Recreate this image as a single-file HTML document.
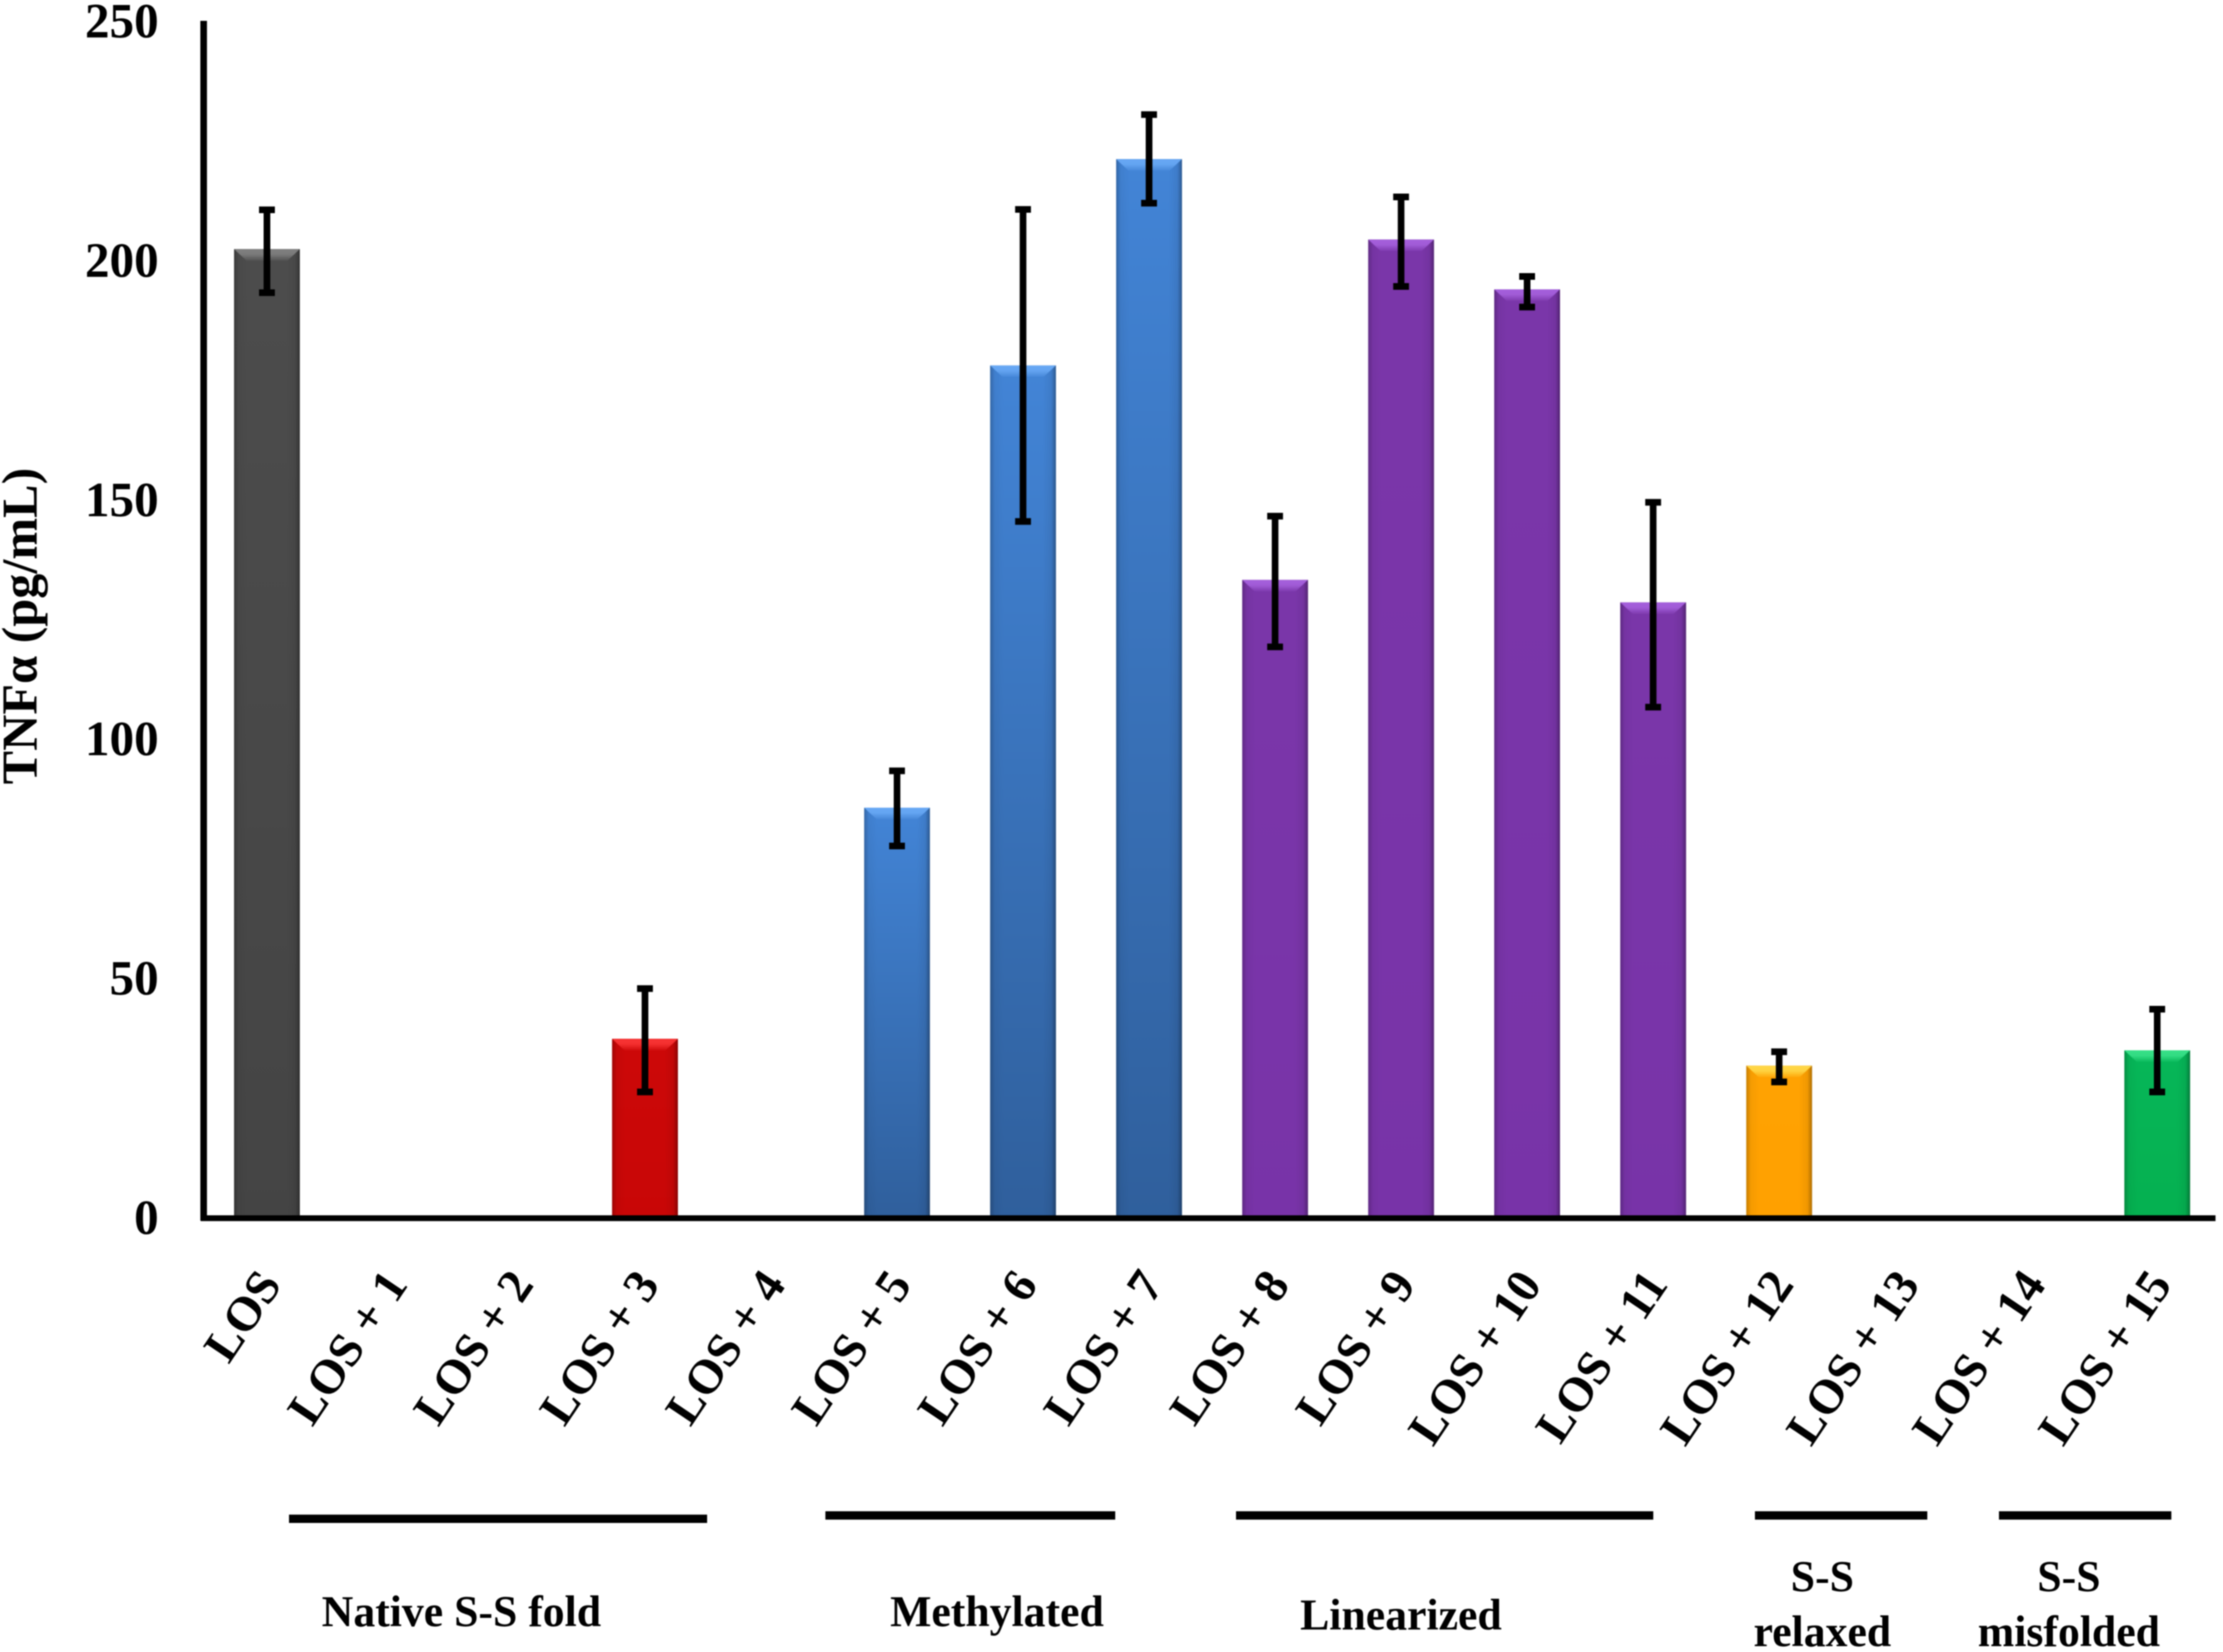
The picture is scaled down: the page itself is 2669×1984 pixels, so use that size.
<!DOCTYPE html>
<html>
<head>
<meta charset="utf-8">
<title>TNFα bar chart</title>
<style>
html,body{margin:0;padding:0;background:#fff;width:2669px;height:1984px;overflow:hidden}
svg{display:block;filter:blur(0.8px)}
text{font-family:"Liberation Serif",serif;font-weight:bold;fill:#000}
</style>
</head>
<body>
<svg id="chart" xmlns="http://www.w3.org/2000/svg" width="2669" height="1984" viewBox="0 0 2669 1984">
  <defs>
    <linearGradient id="g-gray" x1="0" y1="0" x2="0" y2="1"><stop offset="0" stop-color="#4c4c4c"/><stop offset="1" stop-color="#444"/></linearGradient>
    <linearGradient id="g-red" x1="0" y1="0" x2="0" y2="1"><stop offset="0" stop-color="#cc0808"/><stop offset="1" stop-color="#c80606"/></linearGradient>
    <linearGradient id="g-blue" x1="0" y1="0" x2="0" y2="1"><stop offset="0" stop-color="#4284d6"/><stop offset="1" stop-color="#2f5f9c"/></linearGradient>
    <linearGradient id="g-purple" x1="0" y1="0" x2="0" y2="1"><stop offset="0" stop-color="#7a36a9"/><stop offset="1" stop-color="#7833a8"/></linearGradient>
    <linearGradient id="g-orange" x1="0" y1="0" x2="0" y2="1"><stop offset="0" stop-color="#ffa202"/><stop offset="1" stop-color="#ffa000"/></linearGradient>
    <linearGradient id="g-green" x1="0" y1="0" x2="0" y2="1"><stop offset="0" stop-color="#06b658"/><stop offset="1" stop-color="#05b050"/></linearGradient>
    <linearGradient id="edge-shade" x1="0" y1="0" x2="1" y2="0">
      <stop offset="0" stop-color="#000" stop-opacity="0.22"/><stop offset="0.07" stop-color="#000" stop-opacity="0.04"/>
      <stop offset="0.2" stop-color="#000" stop-opacity="0"/><stop offset="0.8" stop-color="#000" stop-opacity="0"/>
      <stop offset="0.93" stop-color="#000" stop-opacity="0.06"/><stop offset="1" stop-color="#000" stop-opacity="0.32"/>
    </linearGradient>
    <linearGradient id="bevel-fade" x1="0" y1="0" x2="0" y2="1">
      <stop offset="0" stop-color="#fff" stop-opacity="1"/><stop offset="0.45" stop-color="#fff" stop-opacity="0.9"/><stop offset="1" stop-color="#fff" stop-opacity="0.1"/>
    </linearGradient>
    <mask id="bevel-mask" maskContentUnits="objectBoundingBox" x="0" y="0" width="1" height="1">
      <rect x="0" y="0" width="1" height="1" fill="url(#bevel-fade)"/>
    </mask>
  </defs>
  <g id="bars"></g>
  <g id="errors"></g>
  <line x1="244.5" y1="25" x2="244.5" y2="1466" stroke="#000" stroke-width="8"/>
  <line x1="241" y1="1463" x2="2660" y2="1463" stroke="#000" stroke-width="7"/>
  <g id="yticks"></g>
  <g id="xticks"></g>
  <text transform="translate(44,942) rotate(-90)" font-size="60.3">TNFα (pg/mL)</text>

  <rect x="347" y="1819" width="502" height="10" fill="#000"/>
  <rect x="991" y="1815" width="348" height="10" fill="#000"/>
  <rect x="1484" y="1815" width="501" height="10" fill="#000"/>
  <rect x="2107" y="1815" width="207" height="10" fill="#000"/>
  <rect x="2400" y="1815" width="207" height="10" fill="#000"/>

  <g font-size="52.5" text-anchor="middle">
    <text x="554" y="1953">Native S-S fold</text>
    <text x="1197" y="1953">Methylated</text>
    <text x="1682" y="1957">Linearized</text>
    <text x="2188" y="1911">S-S</text>
    <text x="2188" y="1977">relaxed</text>
    <text x="2484" y="1911">S-S</text>
    <text x="2484" y="1977">misfolded</text>
  </g>
</svg>
<script>
var categories = ["LOS","LOS + 1","LOS + 2","LOS + 3","LOS + 4","LOS + 5","LOS + 6","LOS + 7","LOS + 8","LOS + 9","LOS + 10","LOS + 11","LOS + 12","LOS + 13","LOS + 14","LOS + 15"];
var values   = [202.3,null,null,37.3,null,85.6,178,221.1,133.2,204.3,193.9,128.5,31.7,null,null,34.9];
var errHigh  = [210.5,null,null,47.8,null,93.3,210.6,230.4,146.5,213.2,196.6,149.4,34.6,null,null,43.5];
var errLow   = [193.2,null,null,26.2,null,77.6,145.4,211.9,119.2,194.5,190.2,106.6,28.3,null,null,26.2];
var groups   = ["gray","red","red","red","red","blue","blue","blue","purple","purple","purple","purple","orange","orange","green","green"];
var yTicks   = [0,50,100,150,200,250];

var bevelColors = {gray:"#808080",red:"#f83434",blue:"#68a8f4",purple:"#a560dc",orange:"#ffd848",green:"#38e088"};
var NS = "http://www.w3.org/2000/svg";
var Y0 = 1462, PX_PER_UNIT = 5.748, X0 = 320.5, STEP = 151.3, BAR_W = 79, CAP_W = 19;

function yScale(v){ return Y0 - v * PX_PER_UNIT; }
function xScale(i){ return X0 + i * STEP; }
function mk(tag, attrs, parent){
  var el = document.createElementNS(NS, tag);
  for (var k in attrs) el.setAttribute(k, attrs[k]);
  parent.appendChild(el);
  return el;
}

var barsG = document.getElementById("bars");
var errG = document.getElementById("errors");
var xG = document.getElementById("xticks");
var yG = document.getElementById("yticks");

categories.forEach(function(cat, i){
  var cx = xScale(i);
  var slug = cat.toLowerCase().replace(/ \+ /, "-plus-");
  if (values[i] !== null) {
    var top = yScale(values[i]);
    var h = Y0 - top;
    var l = cx - BAR_W / 2;
    var r = cx + BAR_W / 2;
    var bar = mk("g", {}, barsG);
    
    
    mk("rect", {x:l, y:top, width:BAR_W, height:h, fill:"url(#g-" + groups[i] + ")"}, bar);
    mk("rect", {x:l, y:top, width:BAR_W, height:h, fill:"url(#edge-shade)"}, bar);
    mk("polygon", {points:[l,top,r,top,r-15,top+14,l+15,top+14].join(" "), fill:bevelColors[groups[i]], mask:"url(#bevel-mask)"}, bar);

    var err = mk("g", {stroke:"#000", "stroke-width":8, fill:"none"}, errG);
    
    
    mk("line", {x1:cx, x2:cx, y1:yScale(errHigh[i]), y2:yScale(errLow[i])}, err);
    mk("line", {x1:cx-CAP_W/2, x2:cx+CAP_W/2, y1:yScale(errHigh[i]), y2:yScale(errHigh[i])}, err);
    mk("line", {x1:cx-CAP_W/2, x2:cx+CAP_W/2, y1:yScale(errLow[i]), y2:yScale(errLow[i])}, err);
  }
  var ax = cx + 19, ay = 1543;
  var lbl = mk("text", {"text-anchor":"end", "font-size":58, transform:"translate(" + ax + "," + ay + ") rotate(-56)"}, xG);
  
  
  lbl.textContent = cat;
});

yTicks.forEach(function(t){
  var lbl = mk("text", {x:190.5, y:yScale(t) + 20, "text-anchor":"end", "font-size":59}, yG);
  
  
  lbl.textContent = t;
});
</script>
</body>
</html>
